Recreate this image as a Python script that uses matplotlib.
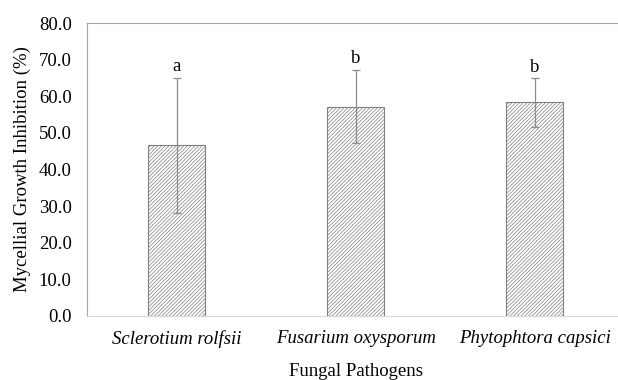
import numpy as np
import matplotlib.pyplot as plt

plt.rcParams['font.family'] = ['Liberation Serif', 'DejaVu Serif']
plt.rcParams['hatch.linewidth'] = 0.5
plt.rcParams['hatch.color'] = '#808080'

# data
pathogens = ['Sclerotium rolfsii', 'Fusarium oxysporum', 'Phytophtora capsici']
inhibition = [46.6, 57.2, 58.3]
errors = [18.4, 9.9, 6.6]
letters = ['a', 'b', 'b']
yticks = np.arange(0, 81, 10)

fs = 13.5
fig = plt.figure(figsize=(6.18, 3.8), dpi=100)
ax = fig.add_axes([87/618, 64/380, 1 - 87/618 + 0.01, 293/380])

x = np.arange(len(pathogens))
ax.bar(x, inhibition, width=0.32, color='white', edgecolor='#808080',
       hatch='/////////', linewidth=0.8)
ax.errorbar(x, inhibition, yerr=errors, fmt='none', ecolor='#8c8c8c',
            elinewidth=0.9, capsize=3, capthick=0.9)

for xi, m, e, l in zip(x, inhibition, errors, letters):
    ax.annotate(l, (xi, m + e), xytext=(0, 2), textcoords='offset points',
                ha='center', va='bottom', fontsize=fs)

ax.set_xlim(-0.5, 2.5)
ax.set_ylim(0, 80)
ax.set_yticks(yticks)
ax.set_yticklabels(['%.1f' % v for v in yticks], fontsize=fs)
ax.set_xticks(x)
ax.set_xticklabels(pathogens, fontsize=fs, style='italic')
ax.tick_params(axis='x', length=0, pad=10)
ax.tick_params(axis='y', length=0, pad=11)

for s in ['left', 'top', 'right']:
    ax.spines[s].set_color('#a6a6a6')
ax.spines['bottom'].set_color('#d9d9d9')

ax.set_ylabel('Mycellial Growth Inhibition (%)', fontsize=fs, labelpad=6)
ax.set_xlabel('Fungal Pathogens', fontsize=fs, labelpad=11)

fig.savefig('out.png', dpi=100)
